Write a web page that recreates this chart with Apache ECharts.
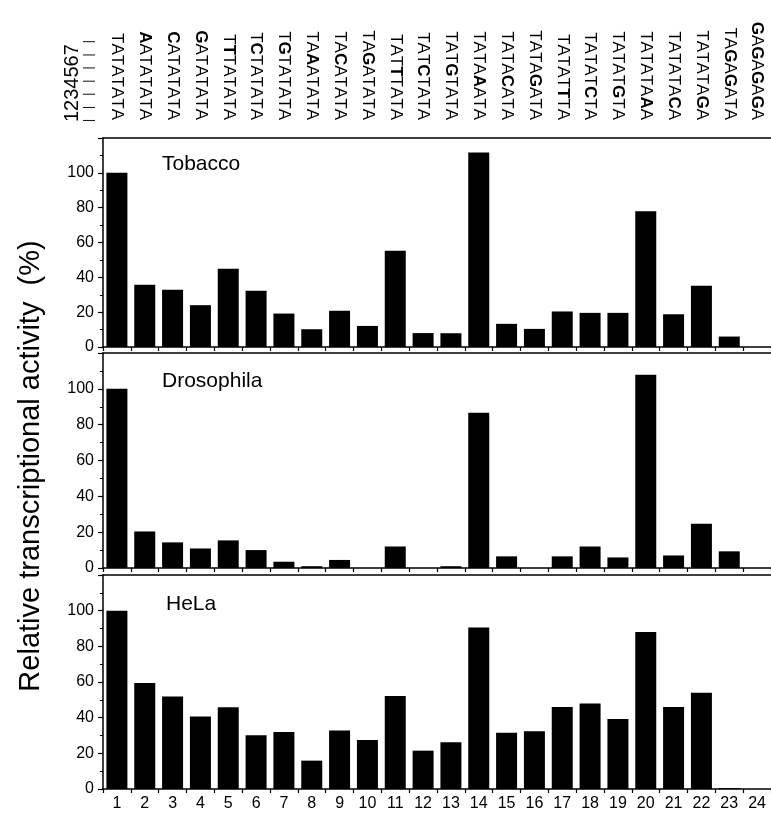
<!DOCTYPE html>
<html>
<head>
<meta charset="utf-8">
<script src="https://cdn.jsdelivr.net/npm/echarts@6/dist/echarts.min.js"></script>
<style>
html,body{margin:0;padding:0;background:#fff;}
#chart{width:771px;height:819px;}
</style>
</head>
<body>
<div id="chart"></div>
<script>
const categories = ['1','2','3','4','5','6','7','8','9','10','11','12','13','14','15','16','17','18','19','20','21','22','23','24'];
const sequences = ['TATATATA','AATATATA','CATATATA','GATATATA','TTTATATA','TCTATATA','TGTATATA','TAAATATA','TACATATA','TAGATATA','TATTTATA','TATCTATA','TATGTATA','TATAAATA','TATACATA','TATAGATA','TATATTTA','TATATCTA','TATATGTA','TATATAAA','TATATACA','TATATAGA','TAGAGATA','GAGAGAGA'];
const tobacco = [100,35.8,32.9,24,45,32.3,19.2,10.2,20.8,12.1,55.2,8,7.9,111.7,13.3,10.4,20.4,19.6,19.6,78,18.8,35.2,6,0];
const drosophila = [100,20.4,14.3,10.9,15.4,10,3.5,1,4.5,0,12,0,1,86.6,6.5,0,6.5,12,5.9,107.8,7,24.7,9.3,0];
const hela = [100,59.4,51.9,40.6,45.9,30.2,32,15.9,32.8,27.5,52.2,21.5,26.2,90.6,31.5,32.4,46,47.9,39.3,88,46,54,0.5,0];
const panelNames = ['Tobacco','Drosophila','HeLa'];
const yTicks = [0,20,40,60,80,100];
const positionDigits = '1234567';
const positionMarks = '|   |   |   |   |   |   |';
const yTitle = 'Relative transcriptional activity  (%)';

const FONT = '"Liberation Sans", Arial, Helvetica, sans-serif';
const chart = echarts.init(document.getElementById('chart'), null, {renderer:'canvas'});

const grids = [
  {left:103, width:670, top:138, height:209},
  {left:103, width:670, top:353, height:215},
  {left:103, width:670, top:575, height:214}
];
const lineStyle = {color:'#000', width:1.5};
const wild = sequences[0];
function seqFormatter(v){
  let s = '';
  for (let i=0;i<v.length;i++){
    s += (v[i] !== wild[i] ? '{b|' : '{n|') + v[i] + '}';
  }
  return s;
}

const xAxes = [];
const yAxes = [];
const series = [];
const data = [tobacco, drosophila, hela];
for (let g=0; g<3; g++){
  xAxes.push({
    type:'category', gridIndex:g, data:categories, position:'bottom',
    axisLine:{show:true, lineStyle:lineStyle},
    axisTick:{show:true, length:4, lineStyle:{color:'#000', width:1.2}},
    axisLabel:{show:g===2, color:'#000', fontSize:16, fontFamily:FONT, margin:7, interval:0},
    splitLine:{show:false}
  });
  xAxes.push({
    type:'category', gridIndex:g, data:(g===0?sequences:categories), position:'top',
    axisLine:{show:true, onZero:false, lineStyle:lineStyle},
    axisTick:{show:false},
    axisLabel:g===0 ? {
      show:true, rotate:90, margin:18, interval:0, formatter:seqFormatter,
      rich:{
        n:{color:'#000', fontSize:17, fontFamily:FONT},
        b:{color:'#000', fontSize:17, fontFamily:FONT, fontWeight:'bold'}
      }
    } : {show:false},
    splitLine:{show:false}
  });
  yAxes.push({
    type:'value', gridIndex:g, min:0, max:120, interval:20,
    axisLine:{show:true, lineStyle:lineStyle},
    axisTick:{show:true, length:5, lineStyle:{color:'#000', width:1.2}},
    minorTick:{show:true, splitNumber:2, length:3, lineStyle:{color:'#000', width:1}},
    axisLabel:{color:'#000', fontSize:16, fontFamily:FONT, margin:9,
      formatter:function(v){ return yTicks.indexOf(v) >= 0 ? String(v) : ''; }},
    splitLine:{show:false}
  });
  series.push({
    type:'bar', xAxisIndex:g*2, yAxisIndex:g, data:data[g], barWidth:21,
    itemStyle:{color:'#000'}, silent:true, animation:false
  });
}

const graphics = [
  {type:'text', x:72, y:122, rotation:Math.PI/2,
   style:{text:positionDigits, fontSize:20, fontFamily:FONT, fill:'#000', textAlign:'left', textVerticalAlign:'middle'}},
  {type:'text', x:89, y:122, rotation:Math.PI/2,
   style:{text:positionMarks, fontSize:12, fontFamily:FONT, fill:'#000', textAlign:'left', textVerticalAlign:'middle'}},
  {type:'text', x:31, y:466, rotation:Math.PI/2,
   style:{text:yTitle, fontSize:29, fontFamily:FONT, fill:'#000', textAlign:'center', textVerticalAlign:'middle'}}
];
const nameY = [164, 381, 604];
const nameX = [162, 162, 166];
for (let g=0; g<3; g++){
  graphics.push({type:'text', x:nameX[g], y:nameY[g],
    style:{text:panelNames[g], fontSize:21, fontFamily:FONT, fill:'#000', textAlign:'left', textVerticalAlign:'middle'}});
}

chart.setOption({
  animation:false,
  backgroundColor:'#fff',
  grid:grids,
  xAxis:xAxes,
  yAxis:yAxes,
  series:series,
  graphic:graphics
});
</script>
</body>
</html>
